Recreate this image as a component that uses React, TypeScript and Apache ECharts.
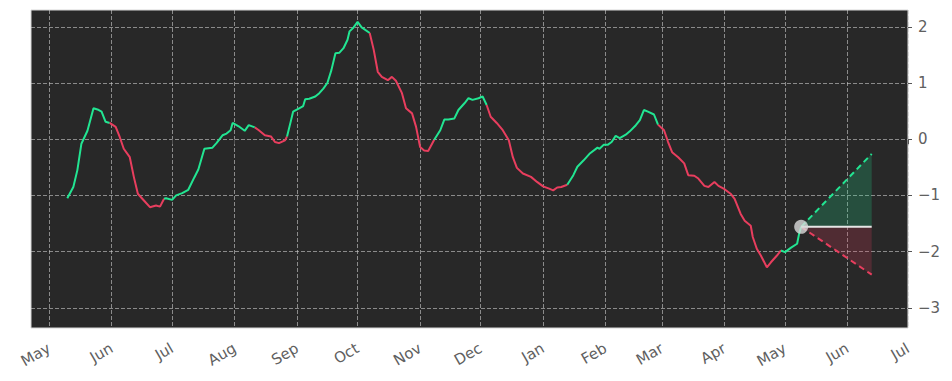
import React, { useEffect, useRef } from 'react';
import * as echarts from 'echarts';

const MONTH_NAMES = ['Jan', 'Feb', 'Mar', 'Apr', 'May', 'Jun', 'Jul', 'Aug', 'Sep', 'Oct', 'Nov', 'Dec'];
const AXIS_START = '2024-04-22';
const AXIS_END = '2025-07-01';
const Y_TICKS = [-3, -2, -1, 0, 1, 2];

const dates = [
  '2024-05-10', '2024-05-13', '2024-05-15', '2024-05-17', '2024-05-20', '2024-05-23', '2024-05-25', '2024-05-27', '2024-05-29', '2024-05-31',
  '2024-06-03', '2024-06-05', '2024-06-07', '2024-06-10', '2024-06-12', '2024-06-14', '2024-06-17', '2024-06-20', '2024-06-23', '2024-06-25',
  '2024-06-27', '2024-06-28', '2024-07-01', '2024-07-03', '2024-07-06', '2024-07-09', '2024-07-12', '2024-07-14', '2024-07-17', '2024-07-21',
  '2024-07-23', '2024-07-26', '2024-07-28', '2024-07-30', '2024-07-31', '2024-08-03', '2024-08-06', '2024-08-08', '2024-08-11', '2024-08-13',
  '2024-08-16', '2024-08-19', '2024-08-21', '2024-08-23', '2024-08-26', '2024-08-27', '2024-08-29', '2024-08-30', '2024-09-02', '2024-09-04',
  '2024-09-05', '2024-09-07', '2024-09-10', '2024-09-12', '2024-09-14', '2024-09-16', '2024-09-18', '2024-09-20', '2024-09-22', '2024-09-24',
  '2024-09-26', '2024-09-27', '2024-09-29', '2024-10-01', '2024-10-03', '2024-10-07', '2024-10-09', '2024-10-11', '2024-10-13', '2024-10-16',
  '2024-10-18', '2024-10-20', '2024-10-23', '2024-10-25', '2024-10-28', '2024-10-30', '2024-11-01', '2024-11-03', '2024-11-05', '2024-11-08',
  '2024-11-11', '2024-11-13', '2024-11-15', '2024-11-18', '2024-11-20', '2024-11-23', '2024-11-25', '2024-11-27', '2024-11-30', '2024-12-02',
  '2024-12-04', '2024-12-06', '2024-12-09', '2024-12-12', '2024-12-15', '2024-12-17', '2024-12-19', '2024-12-22', '2024-12-26', '2024-12-29',
  '2025-01-01', '2025-01-04', '2025-01-06', '2025-01-08', '2025-01-10', '2025-01-13', '2025-01-16', '2025-01-18', '2025-01-21', '2025-01-24',
  '2025-01-28', '2025-01-29', '2025-01-31', '2025-02-02', '2025-02-04', '2025-02-06', '2025-02-08', '2025-02-11', '2025-02-13', '2025-02-16',
  '2025-02-18', '2025-02-20', '2025-02-22', '2025-02-25', '2025-02-27', '2025-03-02', '2025-03-04', '2025-03-06', '2025-03-09', '2025-03-12',
  '2025-03-14', '2025-03-17', '2025-03-19', '2025-03-22', '2025-03-24', '2025-03-27', '2025-03-29', '2025-04-01', '2025-04-04', '2025-04-06',
  '2025-04-09', '2025-04-11', '2025-04-14', '2025-04-15', '2025-04-17', '2025-04-19', '2025-04-22', '2025-04-24', '2025-04-27', '2025-04-29',
  '2025-05-01', '2025-05-04', '2025-05-07', '2025-05-08', '2025-05-09',
];

const values = [
  -1.05, -0.85, -0.55, -0.08, 0.15, 0.55, 0.53, 0.49, 0.31, 0.29,
  0.22, 0.04, -0.17, -0.32, -0.67, -0.97, -1.09, -1.21, -1.18, -1.2,
  -1.06, -1.05, -1.08, -1.0, -0.96, -0.9, -0.68, -0.54, -0.17, -0.15,
  -0.07, 0.07, 0.1, 0.16, 0.29, 0.23, 0.15, 0.25, 0.21, 0.16,
  0.07, 0.05, -0.05, -0.07, -0.02, 0.05, 0.34, 0.49, 0.55, 0.59,
  0.71, 0.72, 0.76, 0.82, 0.9, 1.0, 1.23, 1.53, 1.54, 1.62,
  1.77, 1.92, 1.99, 2.09, 1.99, 1.89, 1.59, 1.2, 1.11, 1.05,
  1.11, 1.04, 0.82, 0.55, 0.46, 0.22, -0.14, -0.2, -0.21, -0.01,
  0.16, 0.35, 0.35, 0.37, 0.52, 0.64, 0.73, 0.7, 0.73, 0.76,
  0.61, 0.4, 0.29, 0.16, -0.02, -0.32, -0.51, -0.61, -0.67, -0.76,
  -0.84, -0.88, -0.91, -0.86, -0.85, -0.81, -0.64, -0.49, -0.38, -0.26,
  -0.15, -0.17, -0.1, -0.1, -0.05, 0.06, 0.02, 0.08, 0.14, 0.25,
  0.34, 0.52, 0.49, 0.44, 0.26, 0.16, -0.05, -0.23, -0.32, -0.43,
  -0.64, -0.65, -0.7, -0.83, -0.85, -0.76, -0.83, -0.89, -0.97, -1.06,
  -1.33, -1.45, -1.54, -1.74, -1.95, -2.07, -2.28, -2.19, -2.07, -1.98,
  -2.01, -1.93, -1.86, -1.68, -1.56,
];

// trend of the segment that starts at each point: u = rising (green), d = falling (red)
const trend = [
  'u', 'u', 'u', 'u', 'u', 'u', 'u', 'u', 'u', 'd',
  'd', 'd', 'd', 'd', 'd', 'd', 'd', 'd', 'd', 'd',
  'u', 'u', 'u', 'u', 'u', 'u', 'u', 'u', 'u', 'u',
  'u', 'u', 'u', 'u', 'u', 'u', 'u', 'u', 'd', 'd',
  'd', 'd', 'd', 'd', 'd', 'u', 'u', 'u', 'u', 'u',
  'u', 'u', 'u', 'u', 'u', 'u', 'u', 'u', 'u', 'u',
  'u', 'u', 'u', 'u', 'u', 'd', 'd', 'd', 'd', 'd',
  'd', 'd', 'd', 'd', 'd', 'd', 'd', 'd', 'd', 'u',
  'u', 'u', 'u', 'u', 'u', 'u', 'u', 'u', 'u', 'u',
  'd', 'd', 'd', 'd', 'd', 'd', 'd', 'd', 'd', 'd',
  'd', 'd', 'd', 'd', 'd', 'u', 'u', 'u', 'u', 'u',
  'u', 'u', 'u', 'u', 'u', 'u', 'u', 'u', 'u', 'u',
  'u', 'u', 'u', 'u', 'd', 'd', 'd', 'd', 'd', 'd',
  'd', 'd', 'd', 'd', 'd', 'd', 'd', 'd', 'd', 'd',
  'd', 'd', 'd', 'd', 'd', 'd', 'd', 'd', 'd', 'u',
  'u', 'u', 'u', 'u', 'u',
];

const forecastDates = ['2025-05-09', '2025-06-13'];
const forecastUpper = [-1.56, -0.26];
const forecastLower = [-1.56, -2.41];
const forecastBase = [-1.56, -1.56];

const GREEN = '#22e592';
const RED = '#e83e5e';
const LABEL = '#606060';

const dayIndex = (d: string) => {
  const [y, m, dd] = d.split('-').map(Number);
  const [y0, m0, d0] = AXIS_START.split('-').map(Number);
  return Math.round((Date.UTC(y, m - 1, dd) - Date.UTC(y0, m0 - 1, d0)) / 86400000);
};

const buildCategories = () => {
  const out: string[] = [];
  const n = dayIndex(AXIS_END);
  const [y0, m0, d0] = AXIS_START.split('-').map(Number);
  for (let i = 0; i <= n; i++) {
    const dt = new Date(Date.UTC(y0, m0 - 1, d0 + i));
    out.push(dt.toISOString().slice(0, 10));
  }
  return out;
};

const isMonthStart = (_i: number, v: string) => typeof v === 'string' && v.slice(8, 10) === '01';
const fmtNum = (v: number) => (v < 0 ? '\u2212' + Math.abs(v) : String(v));

export default function App() {
  const ref = useRef<HTMLDivElement>(null);
  useEffect(() => {
    if (!ref.current) return;
    const chart = echarts.init(ref.current, undefined, { renderer: 'svg' });
    const categories = buildCategories();

    const runs: any[] = [];
    let start = 0;
    const n = dates.length;
    for (let i = 1; i < n; i++) {
      if (i === n - 1 || trend[i] !== trend[start]) {
        const pts: any[] = [];
        for (let k = start; k <= i; k++) pts.push([dayIndex(dates[k]), values[k]]);
        runs.push({
          type: 'line',
          data: pts,
          symbol: 'none',
          lineStyle: { width: 2, color: trend[start] === 'u' ? GREEN : RED },
          z: 5,
        });
        start = i;
      }
    }

    const fPts = (arr: number[]) => arr.map((v, i) => [dayIndex(forecastDates[i]), v]);

    const gridLine = { type: [4, 2], color: 'rgba(205,205,205,0.6)', width: 1 };

    chart.setOption({
      animation: false,
      backgroundColor: '#ffffff',
      grid: {
        left: 31,
        right: 44,
        top: 10,
        bottom: 53,
        show: true,
        backgroundColor: '#282828',
        borderColor: '#d6d6d6',
        borderWidth: 1,
      },
      xAxis: {
        type: 'category',
        data: categories,
        boundaryGap: false,
        axisLine: { show: false },
        axisTick: { show: true, interval: isMonthStart, length: 5, lineStyle: { color: '#555' } },
        axisLabel: {
          interval: isMonthStart,
          rotate: 30,
          color: LABEL,
          fontSize: 15,
          fontFamily: 'DejaVu Sans',
          margin: 19,
          formatter: (v: string) => MONTH_NAMES[Number(v.slice(5, 7)) - 1],
        },
        splitLine: { show: true, interval: isMonthStart, lineStyle: gridLine },
      },
      yAxis: {
        type: 'value',
        position: 'right',
        min: -3.36,
        max: 2.3,
        axisLine: { show: false },
        axisTick: { show: true, length: 4, lineStyle: { color: '#555' }, customValues: Y_TICKS },
        axisLabel: {
          customValues: Y_TICKS,
          color: LABEL,
          fontSize: 15,
          fontFamily: 'DejaVu Sans',
          margin: 10,
          formatter: fmtNum,
        },
        splitLine: { show: true, lineStyle: gridLine },
      },
      series: [
        ...runs,
        {
          type: 'line',
          data: fPts(forecastUpper),
          symbol: 'none',
          lineStyle: { width: 2, color: GREEN, type: [6, 4] },
          areaStyle: { color: 'rgba(34,229,146,0.3)', origin: forecastBase[0] },
          z: 4,
        },
        {
          type: 'line',
          data: fPts(forecastLower),
          symbol: 'none',
          lineStyle: { width: 2, color: RED, type: [6, 4] },
          areaStyle: { color: 'rgba(232,62,94,0.3)', origin: forecastBase[0] },
          z: 4,
        },
        {
          type: 'line',
          data: fPts(forecastBase),
          symbol: 'none',
          lineStyle: { width: 2, color: '#e6e6e6' },
          z: 6,
        },
        {
          type: 'scatter',
          data: [fPts(forecastBase)[0]],
          symbolSize: 14,
          itemStyle: { color: '#d9d9d9' },
          z: 7,
        },
      ],
    });
    return () => chart.dispose();
  }, []);
  return <div ref={ref} style={{ position: 'fixed', left: 0, top: 0, width: 952, height: 381 }} />;
}
